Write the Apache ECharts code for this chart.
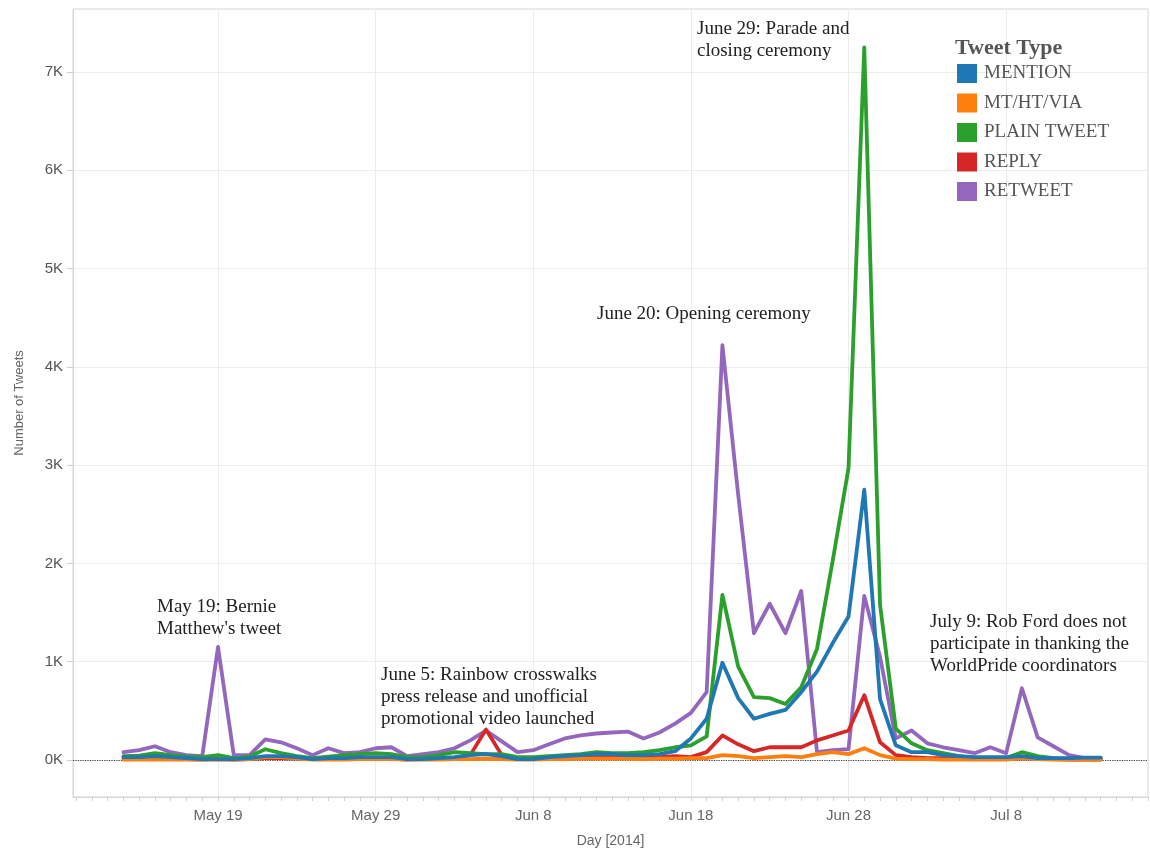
<!DOCTYPE html>
<html><head><meta charset="utf-8">
<script src="https://cdn.jsdelivr.net/npm/echarts@6/dist/echarts.min.js"></script>
<style>html,body{margin:0;padding:0;background:#fff}#c{width:1150px;height:850px}</style>
</head><body><div id="c"></div>
<script>
// ---- data ----
const dates = [
 '2014-05-13','2014-05-14','2014-05-15','2014-05-16','2014-05-17','2014-05-18','2014-05-19','2014-05-20','2014-05-21','2014-05-22',
 '2014-05-23','2014-05-24','2014-05-25','2014-05-26','2014-05-27','2014-05-28','2014-05-29','2014-05-30','2014-05-31','2014-06-01',
 '2014-06-02','2014-06-03','2014-06-04','2014-06-05','2014-06-06','2014-06-07','2014-06-08','2014-06-09','2014-06-10','2014-06-11',
 '2014-06-12','2014-06-13','2014-06-14','2014-06-15','2014-06-16','2014-06-17','2014-06-18','2014-06-19','2014-06-20','2014-06-21',
 '2014-06-22','2014-06-23','2014-06-24','2014-06-25','2014-06-26','2014-06-27','2014-06-28','2014-06-29','2014-06-30','2014-07-01',
 '2014-07-02','2014-07-03','2014-07-04','2014-07-05','2014-07-06','2014-07-07','2014-07-08','2014-07-09','2014-07-10','2014-07-11',
 '2014-07-12','2014-07-13','2014-07-14'];
const mention = [30,30,40,30,20,10,10,10,20,40, 40,30,10,20,20,30,30,30,10,10, 20,30,50,60,40,10,10,30,40,50,
 60,60,50,50,60,90,220,420,990,630, 420,470,510,690,900,1190,1460,2750,620,150, 80,80,50,40,30,30,30,40,20,20, 20,25,25];
const mtHtVia = [5,5,5,5,5,5,5,5,10,30, 30,15,5,5,5,10,10,10,5,5, 5,10,10,15,10,5,5,10,10,15,
 15,15,15,10,15,15,20,20,50,40, 20,30,40,30,60,80,60,120,50,15, 10,10,5,5,5,5,5,20,10,5, 5,5,5];
const plainTweet = [40,45,70,50,35,30,50,20,35,110, 70,40,20,35,50,60,70,60,30,30, 50,80,70,60,60,30,30,40,50,60,
 80,70,70,80,100,130,150,240,1680,950, 640,630,570,740,1130,2030,2970,7250,1580,320, 170,100,70,40,20,20,20,80,40,20, 10,10,15];
const reply = [10,10,15,10,10,5,10,5,10,20, 20,15,10,10,10,15,15,15,5,10, 10,20,50,310,50,10,10,15,20,20,
 25,25,25,25,30,40,30,80,250,160, 90,130,130,130,200,250,300,660,180,50, 30,20,20,15,10,10,10,20,15,10, 5,5,5];
const retweet = [80,100,140,80,50,40,1150,50,50,210, 180,120,50,120,70,80,120,130,40,60, 80,120,200,300,190,80,100,160,220,250,
 270,280,290,220,280,370,480,690,4220,2700, 1290,1590,1290,1720,80,100,110,1670,1050,220, 300,170,130,100,70,130,70,730,230,140, 50,20,20];

const seriesNames = ['MENTION','MT/HT/VIA','PLAIN TWEET','REPLY','RETWEET'];
const xTickDates = ['2014-05-19','2014-05-29','2014-06-08','2014-06-18','2014-06-28','2014-07-08'];
const xTickLabels = ['May 19','May 29','Jun 8','Jun 18','Jun 28','Jul 8'];
const yTickValues = [0,1000,2000,3000,4000,5000,6000,7000];
const yTickLabels = ['0K','1K','2K','3K','4K','5K','6K','7K'];

// ---- helpers ----
const DAY = 86400000;
const BASE = Date.UTC(2014,4,13);
function dayNum(s){ const p = s.split('-').map(Number); return Math.round((Date.UTC(p[0],p[1]-1,p[2]) - BASE)/DAY); }
const xDays = dates.map(dayNum);
const xTickDays = xTickDates.map(dayNum);
const X_MIN = -3.2, X_MAX = 65.0;
const dailyTicks = [];
for (let d = Math.ceil(X_MIN); d <= Math.floor(X_MAX); d++) dailyTicks.push(d);

const colors = {
  'MENTION':'#1f77b4','MT/HT/VIA':'#ff7f0e','PLAIN TWEET':'#2ca02c','REPLY':'#d62728','RETWEET':'#9467bd'
};
const valuesByName = {
  'MENTION':mention,'MT/HT/VIA':mtHtVia,'PLAIN TWEET':plainTweet,'REPLY':reply,'RETWEET':retweet
};
const drawOrder = ['RETWEET','REPLY','PLAIN TWEET','MT/HT/VIA','MENTION'];

const series = drawOrder.map((name, i) => ({
  name: name,
  type: 'line',
  xAxisIndex: 0,
  showSymbol: false,
  symbol: 'none',
  smooth: false,
  color: colors[name],
  itemStyle: { color: colors[name] },
  lineStyle: { width: 3.8, color: colors[name], join: 'round', cap: 'round' },
  data: valuesByName[name].map((v, k) => [xDays[k], v]),
  z: 2 + i,
  markLine: i === 0 ? {
    silent: true, symbol: 'none', label: { show: false },
    lineStyle: { type: 'dotted', color: '#444', width: 1.2 },
    data: [{ yAxis: 0 }], z: 1
  } : undefined
}));

const serif = '"Liberation Serif", "Times New Roman", serif';
const sans = '"Liberation Sans", Arial, sans-serif';

function note(text, left, top){
  return { type:'text', left:left, top:top, z:50,
    style:{ text:text, font:'19px ' + serif, fill:'#222', lineHeight:22 } };
}

const chart = echarts.init(document.getElementById('c'), null, { renderer:'canvas' });
chart.setOption({
  animation: false,
  backgroundColor: '#fff',
  title: [{
    text: 'Tweet Type', left: 955, top: 37, padding: 0,
    textStyle: { fontFamily: serif, fontSize: 22, fontWeight: 'bold', color: '#555' }
  }],
  legend: {
    data: seriesNames, orient: 'vertical', left: 957, top: 64, padding: 0,
    icon: 'rect', itemWidth: 20, itemHeight: 19, itemGap: 10.5,
    textStyle: { fontFamily: serif, fontSize: 19, color: '#555', lineHeight: 19, padding:[0,0,0,2] },
    selectedMode: false
  },
  grid: { left: 73, right: 2, top: 9, bottom: 53, show: true, borderColor: '#d6d6d6', borderWidth: 1,
    containLabel: false, outerBoundsMode: 'none' },
  xAxis: [{
    type: 'value', min: X_MIN, max: X_MAX, position: 'bottom',
    name: 'Day [2014]', nameLocation: 'middle', nameGap: 37,
    nameTextStyle: { fontFamily: sans, fontSize: 14, color: '#666' },
    axisLine: { show: true, onZero: false, lineStyle: { color: '#d6d6d6' } },
    axisTick: { show: true, customValues: xTickDays, length: 4, lineStyle: { color: '#cfcfcf' } },
    axisLabel: { customValues: xTickDays, fontFamily: sans, fontSize: 15, color: '#666', margin: 11,
      formatter: v => { const i = xTickDays.indexOf(Math.round(v)); return i >= 0 ? xTickLabels[i] : ''; } },
    splitLine: { show: true, lineStyle: { color: '#ececec', width: 1 } }
  }, {
    type: 'value', min: X_MIN, max: X_MAX, position: 'bottom',
    axisLine: { show: false, onZero: false },
    axisTick: { show: true, customValues: dailyTicks, length: 4, lineStyle: { color: '#cfcfcf' } },
    axisLabel: { show: false },
    splitLine: { show: false }
  }],
  yAxis: {
    type: 'value', min: -376, max: 7640,
    name: 'Number of Tweets', nameLocation: 'middle', nameGap: 47, nameRotate: 90,
    nameTextStyle: { fontFamily: sans, fontSize: 13, color: '#666' },
    axisLine: { show: true, onZero: false, lineStyle: { color: '#d6d6d6' } },
    axisTick: { show: true, customValues: yTickValues, length: 6, lineStyle: { color: '#cfcfcf' } },
    axisLabel: { customValues: yTickValues, fontFamily: sans, fontSize: 15, color: '#555', margin: 10,
      formatter: v => { const i = yTickValues.indexOf(Math.round(v)); return i >= 0 ? yTickLabels[i] : ''; } },
    splitLine: { show: true, lineStyle: { color: '#ececec', width: 1 } }
  },
  series: series,
  graphic: [
    note('June 29: Parade and\nclosing ceremony', 697, 18),
    note('June 20: Opening ceremony', 597, 303),
    note("May 19: Bernie\nMatthew's tweet", 157, 596),
    note('June 5: Rainbow crosswalks\npress release and unofficial\npromotional video launched', 381, 664),
    note('July 9: Rob Ford does not\nparticipate in thanking the\nWorldPride coordinators', 930, 611)
  ]
});
</script></body></html>
